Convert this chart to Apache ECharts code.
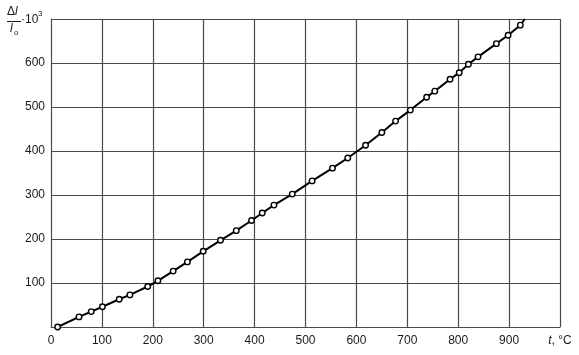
<!DOCTYPE html>
<html>
<head>
<meta charset="utf-8">
<script src="https://cdn.jsdelivr.net/npm/echarts@6/dist/echarts.min.js"></script>
<style>
html,body{margin:0;padding:0;background:#fff;}
#c{width:579px;height:355px;}
</style>
</head>
<body>
<div id="c"></div>
<script>
// Temperature t, °C
const tempC = [13, 55, 79, 101, 134, 155, 190, 210, 240, 268, 299, 333, 364, 394, 415, 438, 474, 513, 553, 583, 618, 650, 677, 706, 738, 754, 784, 802, 820, 839, 875, 898, 922, 931];
// Relative elongation Δl/l0 · 10^3
const elong = [0, 23, 35, 46, 63, 73, 92, 105, 127, 148, 172, 197, 219, 242, 259, 277, 302, 332, 361, 384, 413, 442, 468, 493, 522, 536, 563, 578, 597, 614, 644, 663, 686, 700];
// Points drawn without a marker (line continues to frame)
const noMarker = [33];
const xTicks = [0, 100, 200, 300, 400, 500, 600, 700, 800, 900, 1000];
const yTicks = [0, 100, 200, 300, 400, 500, 600, 700];

const chart = echarts.init(document.getElementById('c'));
const data = tempC.map((t, i) => {
  const d = { value: [t, elong[i]] };
  if (noMarker.includes(i)) d.symbol = 'none';
  return d;
});
const font = 'Liberation Sans, Arial, sans-serif';
const gridColor = '#4a4a4a';
const txt = '#1a1a1a';
chart.setOption({
  animation: false,
  backgroundColor: '#fff',
  grid: { left: 51, right: 19, top: 19, bottom: 28, containLabel: false },
  xAxis: {
    type: 'value', min: xTicks[0], max: xTicks[xTicks.length - 1], interval: 100,
    axisLine: { show: true, lineStyle: { color: gridColor, width: 1 } },
    axisTick: { show: false },
    splitLine: { show: true, lineStyle: { color: gridColor, width: 1.2 } },
    axisLabel: {
      margin: 8, color: txt, fontSize: 12, fontFamily: font,
      formatter: v => v === 1000 ? '{i|t}, °C' : String(v),
      rich: { i: { fontStyle: 'italic', fontSize: 12, fontFamily: font, color: txt } }
    }
  },
  yAxis: {
    type: 'value', min: yTicks[0], max: yTicks[yTicks.length - 1], interval: 100,
    axisLine: { show: true, lineStyle: { color: gridColor, width: 1 } },
    axisTick: { show: false },
    splitLine: { show: true, lineStyle: { color: gridColor, width: 1.2 } },
    axisLabel: {
      margin: 6, color: txt, fontSize: 12, fontFamily: font,
      formatter: v => (v === 0 || v === 700) ? '' : String(v)
    }
  },
  graphic: [
    { type: 'text', left: 7, top: 6, style: {
        text: '{a|Δ}{b|l}',
        rich: {
          a: { font: '12px ' + font, fill: txt },
          b: { font: 'italic 12px ' + font, fill: txt }
        }
      } },
    { type: 'line', shape: { x1: 7, y1: 21.5, x2: 21, y2: 21.5 }, style: { stroke: txt, lineWidth: 1 } },
    { type: 'text', left: 10, top: 23, style: { text: 'l', font: 'italic 12px ' + font, fill: txt } },
    { type: 'text', left: 14, top: 29, style: { text: 'o', font: '8px ' + font, fill: txt } },
    { type: 'text', left: 21, top: 14, style: { text: '·10', font: '12px ' + font, fill: txt } },
    { type: 'text', left: 38, top: 10, style: { text: '3', font: '8px ' + font, fill: txt } }
  ],
  series: [{
    type: 'line', data: data, clip: true,
    lineStyle: { color: '#000', width: 2 },
    symbol: 'circle', symbolSize: 5.5, showSymbol: true,
    itemStyle: { color: '#fff', borderColor: '#000', borderWidth: 1.4 },
    z: 5
  }]
});
</script>
</body>
</html>
